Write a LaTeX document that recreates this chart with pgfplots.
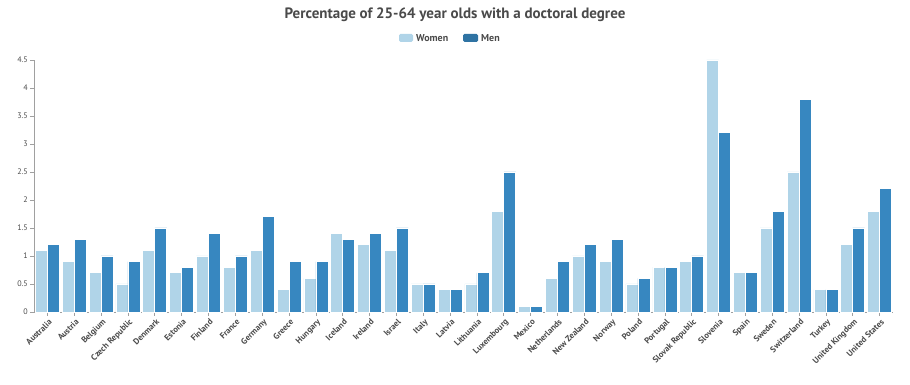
\documentclass[border=0pt]{standalone}
\usepackage{fontspec}
\setmainfont{PT Sans}
\usepackage{pgfplots}
\pgfplotsset{compat=1.18}
\usepackage{pgfplotstable}
\definecolor{women}{HTML}{B0D4E8}
\definecolor{men}{HTML}{3787C0}
\definecolor{axisgray}{HTML}{A0A0A0}
\definecolor{txtgray}{HTML}{4A4A4A}
\pgfplotstableread{
idx women men
0 1.1 1.2
1 0.9 1.3
2 0.7 1.0
3 0.5 0.9
4 1.1 1.5
5 0.7 0.8
6 1.0 1.4
7 0.8 1.0
8 1.1 1.7
9 0.4 0.9
10 0.6 0.9
11 1.4 1.3
12 1.2 1.4
13 1.1 1.5
14 0.5 0.5
15 0.4 0.4
16 0.5 0.7
17 1.8 2.5
18 0.1 0.1
19 0.6 0.9
20 1.0 1.2
21 0.9 1.3
22 0.5 0.6
23 0.8 0.8
24 0.9 1.0
25 4.5 3.2
26 0.7 0.7
27 1.5 1.8
28 2.5 3.8
29 0.4 0.4
30 1.2 1.5
31 1.8 2.2
}\datatable
\begin{document}
\begin{tikzpicture}
\path[use as bounding box] (0,0) rectangle (910pt,385pt);
\node[font=\fontsize{15}{18}\selectfont\bfseries, text=txtgray] at (455pt,370pt) {Percentage of 25-64 year olds with a doctoral degree};
\fill[women, rounded corners=1.5pt] (399pt,343pt) rectangle (413pt,351pt);
\node[anchor=west, font=\fontsize{10}{12}\selectfont\bfseries, text=txtgray, inner sep=0pt] at (416pt,347pt) {Women};
\fill[men!85!black, rounded corners=1.5pt] (463pt,343pt) rectangle (478pt,351pt);
\node[anchor=west, font=\fontsize{10}{12}\selectfont\bfseries, text=txtgray, inner sep=0pt] at (481pt,347pt) {Men};
\begin{axis}[
  at={(34pt,73pt)}, anchor=south west,
  scale only axis, width=859pt, height=252pt,
  xmin=-0.5, xmax=31.5, ymin=0, ymax=4.5,
  axis x line*=bottom, axis y line*=left,
  axis line style={axisgray, line width=0.8pt},
  every outer x axis line/.append style={-},
  every outer y axis line/.append style={-},
  xtick=data,
  xticklabels={Australia,Austria,Belgium,Czech Republic,Denmark,Estonia,Finland,France,Germany,Greece,Hungary,Iceland,Ireland,Israel,Italy,Latvia,Lithuania,Luxembourg,Mexico,Netherlands,New Zealand,Norway,Poland,Portugal,Slovak Republic,Slovenia,Spain,Sweden,Switzerland,Turkey,United Kingdom,United States},
  x tick label style={rotate=45, anchor=north east, font=\fontsize{8.5}{10}\selectfont\bfseries, text=txtgray, inner sep=1pt, yshift=-1pt},
  ytick={0,0.5,1,1.5,2,2.5,3,3.5,4,4.5},
  yticklabels={0,0.5,1,1.5,2,2.5,3,3.5,4,4.5},
  y tick label style={font=\fontsize{8}{9}\selectfont, text=txtgray, inner sep=2pt},
  tick align=outside,
  tick style={axisgray, line width=0.6pt},
  major tick length=4pt,
  /pgf/number format/assume math mode=true,
  clip=false,
]
\addplot[ybar, bar width=12pt, bar shift=-6pt, fill=women, draw=white, line width=0.6pt] table[x=idx, y=women] {\datatable};
\addplot[ybar, bar width=12pt, bar shift=6pt, fill=men, draw=white, line width=0.6pt] table[x=idx, y=men] {\datatable};
\end{axis}
\end{tikzpicture}
\end{document}
